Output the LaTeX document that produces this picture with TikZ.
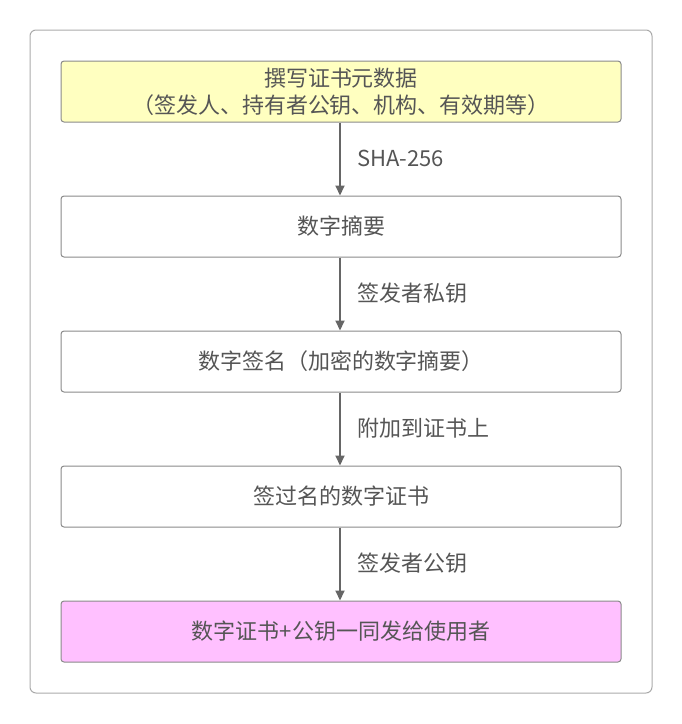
\documentclass[tikz,border=0pt]{standalone}
\usepackage{fontspec}
\setmainfont{Noto Sans CJK SC}
\usepackage{xcolor}
\usetikzlibrary{arrows.meta}
\definecolor{linegray}{HTML}{666666}
\definecolor{boxgray}{HTML}{8A8A8A}
\definecolor{framegray}{HTML}{AAAAAA}
\definecolor{textgray}{HTML}{555555}
\definecolor{metayellow}{HTML}{FFFFC0}
\definecolor{sendpink}{HTML}{FFC0FF}
\tikzstyle{procbox}=[draw=boxgray, line width=1pt, shape=rectangle, rounded corners=3pt, fill=white, minimum width=560pt, minimum height=61pt, inner sep=0pt, align=center, text=textgray, font=\fontsize{22}{27}\selectfont]
\tikzstyle{steplabel}=[shape=rectangle, inner sep=0pt, anchor=west, text=textgray, font=\fontsize{22}{26}\selectfont]
\tikzstyle{flow}=[-{Triangle[length=10pt, width=9pt]}, line width=2pt, color=linegray]

\begin{document}
\begin{tikzpicture}[x=1pt, y=-1pt]
\useasboundingbox (0,0) rectangle (682,724);
\draw[framegray, line width=1pt, rounded corners=6pt] (30,30) rectangle (652,693);

\node [procbox, fill=metayellow] (meta) at (341,91.5) {撰写证书元数据\\（签发人、持有者公钥、机构、有效期等）};
\node [procbox] (digest) at (341,226.5) {数字摘要};
\node [procbox] (signature) at (341,361.5) {数字签名（加密的数字摘要）};
\node [procbox] (signedcert) at (341,496.5) {签过名的数字证书};
\node [procbox, fill=sendpink] (deliver) at (341,631.5) {数字证书+公钥一同发给使用者};

\draw[flow] (meta.south -| 340,0) -- (digest.north -| 340,0);
\draw[flow] (digest.south -| 340,0) -- (signature.north -| 340,0);
\draw[flow] (signature.south -| 340,0) -- (signedcert.north -| 340,0);
\draw[flow] (signedcert.south -| 340,0) -- (deliver.north -| 340,0);

\node [steplabel] (hashlabel) at (357,158) {SHA-256};
\node [steplabel] (privlabel) at (357,293) {签发者私钥};
\node [steplabel] (attachlabel) at (357,428) {附加到证书上};
\node [steplabel] (publabel) at (357,563) {签发者公钥};
\end{tikzpicture}
\end{document}
